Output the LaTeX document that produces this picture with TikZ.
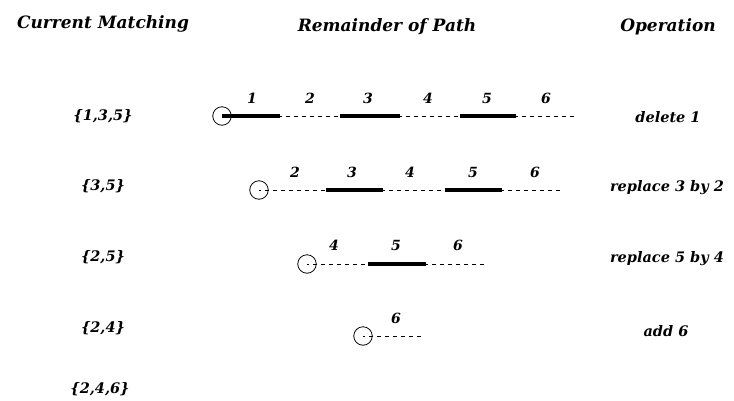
\documentclass[tikz,border=0pt]{standalone}
\usepackage{fontspec}
\setmainfont{DejaVu Serif}
\begin{document}
\begin{tikzpicture}[x=1pt,y=-1pt,
  hdr/.style={font=\fontsize{17}{17}\selectfont\itshape\bfseries, inner sep=0pt},
  setlbl/.style={font=\fontsize{14.5}{14.5}\selectfont\itshape\bfseries, inner sep=0pt},
  num/.style={font=\fontsize{14}{14}\selectfont\itshape\bfseries, inner sep=0pt},
  op/.style={font=\fontsize{14.5}{14.5}\selectfont\itshape\bfseries, inner sep=0pt},
  vtx/.style={circle, draw, line width=0.8pt, minimum size=18.5pt, inner sep=0pt},
  matched/.style={line width=3.2pt},
  free/.style={line width=0.9pt, dash pattern=on 4pt off 4pt, dash phase=2pt}]
\useasboundingbox (0,0) rectangle (734,400);

% headers
\node[hdr] (h1) at (103,24) {Current Matching};
\node[hdr] (h2) at (387,27) {Remainder of Path};
\node[hdr] (h3) at (668,27) {Operation};

% left column
\node[setlbl] (m1) at (103,116) {\{1,3,5\}};
\node[setlbl] (m2) at (103,186) {\{3,5\}};
\node[setlbl] (m3) at (103,257) {\{2,5\}};
\node[setlbl] (m4) at (103,328) {\{2,4\}};
\node[setlbl] (m5) at (100,389) {\{2,4,6\}};

% operations
\node[op] (o1) at (668,117) {delete 1};
\node[op] (o2) at (667,188) {replace 3 by 2};
\node[op] (o3) at (667,259) {replace 5 by 4};
\node[op] (o4) at (666,331) {add 6};

% row 1
\node[vtx] (r1v) at (222,116) {};
\coordinate (r1a) at (280,116);
\coordinate (r1b) at (340,116);
\coordinate (r1c) at (400,116);
\coordinate (r1d) at (460,116);
\coordinate (r1e) at (516,116);
\coordinate (r1f) at (576,116);
\draw[matched] (r1v.center) -- (r1a);
\draw[free] (r1a) -- (r1b);
\draw[matched] (r1b) -- (r1c);
\draw[free] (r1c) -- (r1d);
\draw[matched] (r1d) -- (r1e);
\draw[free] (r1e) -- (r1f);
\node[num] (r1n1) at (252,98) {1};
\node[num] (r1n2) at (310,98) {2};
\node[num] (r1n3) at (368,98) {3};
\node[num] (r1n4) at (428,98) {4};
\node[num] (r1n5) at (487,98) {5};
\node[num] (r1n6) at (546,98) {6};

% row 2
\node[vtx] (r2v) at (259,190) {};
\coordinate (r2a) at (326,190);
\coordinate (r2b) at (383,190);
\coordinate (r2c) at (445,190);
\coordinate (r2d) at (502,190);
\coordinate (r2e) at (562,190);
\draw[free] (r2v.center) -- (r2a);
\draw[matched] (r2a) -- (r2b);
\draw[free] (r2b) -- (r2c);
\draw[matched] (r2c) -- (r2d);
\draw[free] (r2d) -- (r2e);
\node[num] (r2n2) at (295,172) {2};
\node[num] (r2n3) at (352,172) {3};
\node[num] (r2n4) at (410,172) {4};
\node[num] (r2n5) at (473,172) {5};
\node[num] (r2n6) at (535,172) {6};

% row 3
\node[vtx] (r3v) at (307,264) {};
\coordinate (r3a) at (368,264);
\coordinate (r3b) at (426,264);
\coordinate (r3c) at (485,264);
\draw[free] (r3v.center) -- (r3a);
\draw[matched] (r3a) -- (r3b);
\draw[free] (r3b) -- (r3c);
\node[num] (r3n4) at (334,245) {4};
\node[num] (r3n5) at (396,245) {5};
\node[num] (r3n6) at (458,245) {6};

% row 4
\node[vtx] (r4v) at (363,336) {};
\coordinate (r4a) at (422,336);
\draw[free] (r4v.center) -- (r4a);
\node[num] (r4n6) at (396,318) {6};
\end{tikzpicture}
\end{document}
